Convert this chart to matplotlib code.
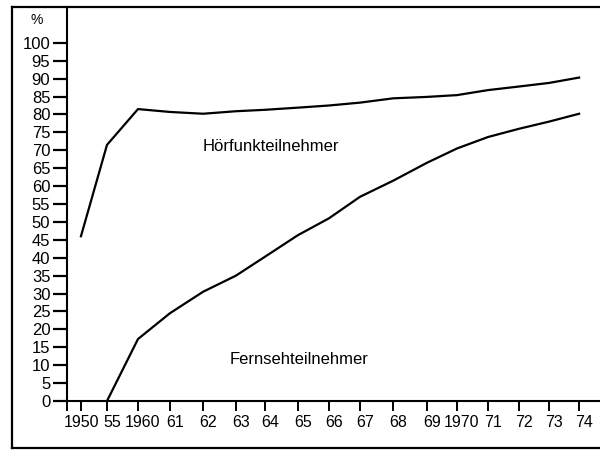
#!/usr/bin/env python3
"""Hörfunk- und Fernsehteilnehmer 1950-1974, Anteil der Haushalte in %."""

import matplotlib

matplotlib.use("Agg")

import matplotlib.pyplot as plt
import matplotlib.transforms as mtransforms
import numpy as np
from matplotlib.lines import Line2D

tick_years = [1950, 1955, 1960, 1961, 1962, 1963, 1964, 1965, 1966,
              1967, 1968, 1969, 1970, 1971, 1972, 1973, 1974]
tick_labels = ["1950", "55", "1960", "61", "62", "63", "64", "65", "66",
               "67", "68", "69", "1970", "71", "72", "73", "74"]

radio_years = tick_years
radio_pct = [46, 71.5, 81.5, 80.7, 80.2, 80.9, 81.3, 81.9, 82.5,
             83.3, 84.5, 84.9, 85.4, 86.8, 87.8, 88.8, 90.3]

tv_years = tick_years[1:]
tv_pct = [0, 17.3, 24.5, 30.5, 35, 40.3, 46.3, 51, 57,
          61.5, 66.5, 70.5, 73.7, 76, 78, 80.2]

# the printed axis is not evenly spaced: 1950-55 is squeezed into one slot
tick_pos = [0.45, 1.29, 2.29, 3.32, 4.39, 5.45, 6.39, 7.45, 8.45,
            9.45, 10.52, 11.61, 12.58, 13.58, 14.58, 15.55, 16.52]


def to_pos(years):
    return np.interp(years, tick_years, tick_pos)


plt.rcParams["font.family"] = ["Liberation Sans", "DejaVu Sans"]

fig = plt.figure(figsize=(6, 4.5), dpi=100)
ax = fig.add_axes([67 / 600, 49 / 450, 533 / 600, 394 / 450])

ax.plot(to_pos(radio_years), radio_pct, color="black", lw=1.6, solid_joinstyle="round")
ax.plot(to_pos(tv_years), tv_pct, color="black", lw=1.6, solid_joinstyle="round")

ax.set_xlim(0, 533 / 31)
ax.set_ylim(0, 110)

ax.set_xticks([0] + tick_pos)
ax.set_xticklabels([""] + tick_labels)
ax.set_yticks(np.arange(0, 101, 5))
ax.tick_params(axis="y", direction="out", length=10, width=1.6, pad=2, labelsize=12)
ax.tick_params(axis="x", direction="out", length=7, width=1.4, pad=3, labelsize=11.5)

# in the print the year labels sit a little to the right of their ticks
for i, lab in enumerate(ax.get_xticklabels()):
    px = 1 if i == 1 else 5
    shift = mtransforms.ScaledTranslation(px / 100, 0, fig.dpi_scale_trans)
    lab.set_transform(lab.get_transform() + shift)

for side in ("top", "right"):
    ax.spines[side].set_visible(False)
for side in ("left", "bottom"):
    ax.spines[side].set_linewidth(1.5)

ax.text(4.39, 71, "Hörfunkteilnehmer", fontsize=12, ha="left", va="center")
ax.text(5.26, 11.5, "Fernsehteilnehmer", fontsize=12, ha="left", va="center")
fig.text(37 / 600, 1 - 20 / 450, "%", fontsize=10, ha="center", va="center")

# outer frame of the printed figure
x0, x1 = 12 / 600, 1.0
y0, y1 = 1 - 448 / 450, 1 - 7 / 450
for xs, ys in [([x0, x1], [y1, y1]), ([x0, x0], [y0, y1]), ([x0, x1], [y0, y0])]:
    fig.add_artist(Line2D(xs, ys, color="black", lw=1.6, transform=fig.transFigure))

fig.savefig("out.png", dpi=100)
plt.close(fig)
